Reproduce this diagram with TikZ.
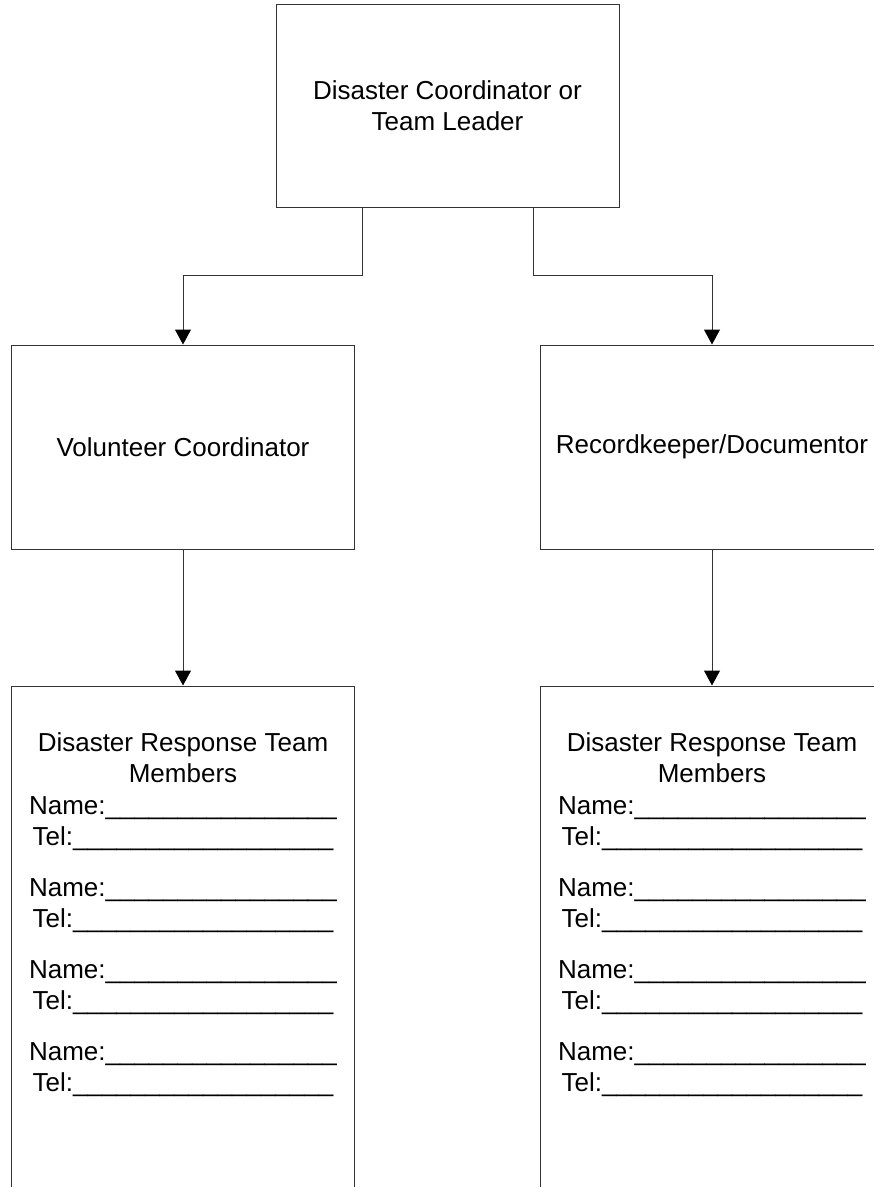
\documentclass[tikz,border=0pt]{standalone}
\usepackage{fontspec}
\setmainfont{Liberation Sans}
\usetikzlibrary{positioning,arrows.meta}

\begin{document}
\begin{tikzpicture}[x=1pt,y=1pt,
						font=\fontsize{26}{30.5}\selectfont,
						role/.style={draw=black!80,line width=1pt,
						minimum width=343pt,minimum height=204pt,
						align=center,inner sep=0pt},
						team/.style={draw=black!80,line width=1pt,
						minimum width=343pt,minimum height=560pt,inner sep=0pt},
						roster/.style={align=center,inner sep=0pt},
						link/.style={draw=black!80,line width=1pt,
						-{Triangle[width=16pt,length=15pt,black]}}]

		\useasboundingbox (0,0) rectangle (874,-1187);
		\clip (0,0) rectangle (874,-1187);

		\node[role,minimum height=203pt] (lead) at (447.5,-105.5) {Disaster Coordinator or\\Team Leader};
		\node[role,below=137pt of lead,xshift=-264.5pt] (vol) {Volunteer Coordinator};
		\node[role,below=137pt of lead,xshift=264.5pt] (rec) {Recordkeeper/Documentor};
		\node[team,below=136pt of vol] (teamL) {};
		\node[team,below=136pt of rec] (teamR) {};

		\node[roster,below=47pt of teamL.north] (rosterL) {Disaster Response Team\\Members\\[2pt]
			Name:\_\_\_\_\_\_\_\_\_\_\_\_\_\_\_\_\\Tel:\_\_\_\_\_\_\_\_\_\_\_\_\_\_\_\_\_\_\\[21pt]
			Name:\_\_\_\_\_\_\_\_\_\_\_\_\_\_\_\_\\Tel:\_\_\_\_\_\_\_\_\_\_\_\_\_\_\_\_\_\_\\[21pt]
			Name:\_\_\_\_\_\_\_\_\_\_\_\_\_\_\_\_\\Tel:\_\_\_\_\_\_\_\_\_\_\_\_\_\_\_\_\_\_\\[21pt]
			Name:\_\_\_\_\_\_\_\_\_\_\_\_\_\_\_\_\\Tel:\_\_\_\_\_\_\_\_\_\_\_\_\_\_\_\_\_\_};
		\node[roster,below=47pt of teamR.north] (rosterR) {Disaster Response Team\\Members\\[2pt]
			Name:\_\_\_\_\_\_\_\_\_\_\_\_\_\_\_\_\\Tel:\_\_\_\_\_\_\_\_\_\_\_\_\_\_\_\_\_\_\\[21pt]
			Name:\_\_\_\_\_\_\_\_\_\_\_\_\_\_\_\_\\Tel:\_\_\_\_\_\_\_\_\_\_\_\_\_\_\_\_\_\_\\[21pt]
			Name:\_\_\_\_\_\_\_\_\_\_\_\_\_\_\_\_\\Tel:\_\_\_\_\_\_\_\_\_\_\_\_\_\_\_\_\_\_\\[21pt]
			Name:\_\_\_\_\_\_\_\_\_\_\_\_\_\_\_\_\\Tel:\_\_\_\_\_\_\_\_\_\_\_\_\_\_\_\_\_\_};

		\draw[link] ([xshift=-85.5pt]lead.south) -- ++(0,-68) -| (vol.north);
		\draw[link] ([xshift=85.5pt]lead.south) -- ++(0,-68) -| (rec.north);
		\draw[link] (vol) -- (teamL);
		\draw[link] (rec) -- (teamR);

	\end{tikzpicture}
\end{document}
